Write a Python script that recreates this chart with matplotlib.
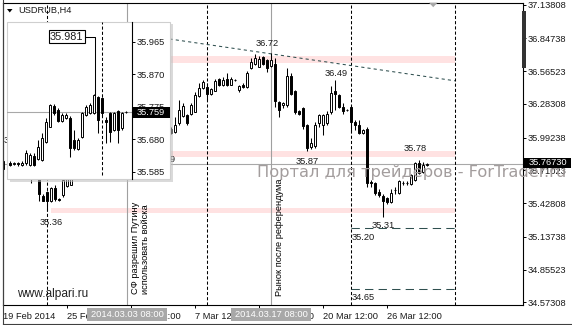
import matplotlib
matplotlib.use("Agg")
import matplotlib.pyplot as plt
from matplotlib.patches import Rectangle, Polygon
from matplotlib.lines import Line2D
from matplotlib.transforms import Affine2D

# ---------------- data ----------------
symbol = "USDRUB,H4"
# main H4 bars; index 0 = 19 Feb 2014 12:00 (one index per 4h bar); bars hidden by the inset are omitted
bar_idx = [0, 7, 9, 10, 11, 12, 13, 14, 15, 16, 17] + list(range(42, 107))
bar_open = [35.72, 35.70, 35.66, 35.49, 35.52, 35.45, 35.555, 35.465, 35.50, 35.575, 35.585,
            36.064, 36.044, 36.12, 36.179, 36.187, 36.20, 36.216, 36.35, 36.42, 36.43,
            36.37, 36.397, 36.50, 36.445, 36.50, 36.45, 36.49, 36.40, 36.45, 36.43,
            36.59, 36.63, 36.605, 36.69, 36.66, 36.61, 36.63, 36.30, 36.27, 36.27,
            36.52, 36.39, 36.22, 36.245, 36.10, 35.91, 35.92, 36.115, 36.10, 36.115,
            36.216, 36.39, 36.36, 36.26, 36.23, 36.26, 36.13, 36.10, 36.03, 36.07,
            35.61, 35.605, 35.525, 35.49, 35.47, 35.44, 35.54, 35.515, 35.60, 35.60,
            35.59, 35.63, 35.77, 35.70, 35.76]
bar_high = [35.80, 35.74, 35.68, 35.51, 35.53, 35.57, 35.58, 35.47, 35.64, 35.68, 35.70,
            36.08, 36.167, 36.316, 36.29, 36.20, 36.29, 36.387, 36.46, 36.49, 36.46,
            36.42, 36.50, 36.51, 36.517, 36.55, 36.517, 36.50, 36.45, 36.46, 36.57,
            36.68, 36.71, 36.695, 36.70, 36.67, 36.72, 36.68, 36.31, 36.30, 36.59,
            36.55, 36.40, 36.23, 36.26, 36.11, 35.99, 36.13, 36.20, 36.20, 36.22,
            36.435, 36.49, 36.37, 36.29, 36.24, 36.27, 36.14, 36.14, 36.07, 36.08,
            35.63, 35.61, 35.55, 35.505, 35.48, 35.55, 35.57, 35.627, 35.62, 35.62,
            35.68, 35.785, 35.80, 35.785, 35.775]
bar_low = [35.66, 35.60, 35.45, 35.445, 35.36, 35.44, 35.45, 35.445, 35.48, 35.57, 35.58,
           36.02, 36.03, 36.10, 36.17, 36.10, 36.19, 36.21, 36.34, 36.41, 36.317,
           36.36, 36.39, 36.44, 36.44, 36.44, 36.445, 36.48, 36.385, 36.42, 36.42,
           36.58, 36.62, 36.60, 36.62, 36.56, 36.60, 36.26, 36.17, 36.25, 36.26,
           36.36, 36.20, 36.19, 36.07, 35.88, 35.89, 35.90, 36.08, 36.015, 36.10,
           36.20, 36.23, 36.25, 36.20, 36.22, 36.04, 36.06, 36.02, 36.02, 35.57,
           35.57, 35.50, 35.48, 35.31, 35.42, 35.43, 35.51, 35.51, 35.58, 35.58,
           35.58, 35.62, 35.68, 35.69, 35.75]
bar_close = [35.79, 35.66, 35.51, 35.45, 35.45, 35.555, 35.46, 35.455, 35.63, 35.66, 35.68,
             36.030, 36.101, 36.23, 36.265, 36.12, 36.274, 36.36, 36.417, 36.475, 36.37,
             36.41, 36.484, 36.45, 36.488, 36.45, 36.50, 36.491, 36.44, 36.43, 36.55,
             36.64, 36.68, 36.67, 36.63, 36.59, 36.66, 36.31, 36.23, 36.29, 36.52,
             36.37, 36.215, 36.20, 36.09, 35.90, 35.945, 36.10, 36.187, 36.187, 36.20,
             36.375, 36.37, 36.26, 36.225, 36.231, 36.13, 36.10, 36.035, 36.06, 35.60,
             35.60, 35.512, 35.495, 35.45, 35.44, 35.515, 35.541, 35.62, 35.601, 35.605,
             35.67, 35.77, 35.685, 35.76, 35.7673]
current_price = 35.7673

price_ticks = [37.13808, 36.84738, 36.56523, 36.28308, 35.99238, 35.71023,
               35.42808, 35.13738, 34.85523, 34.57308]
time_tick_idx = [0, 16, 32, 48, 64, 80, 96]
time_tick_labels = ["19 Feb 2014", "25 Feb 12:00", "3 Mar 12:00", "7 Mar 12:00",
                    "14 Mar 12:00", "20 Mar 12:00", "26 Mar 12:00"]

# event lines
event_idx = [31, 67]
event_labels = ["2014.03.03 08:00", "2014.03.17 08:00"]
event_texts = ["СФ разрешил Путину\nиспользовать войска", "Рынок после референдума"]
dashed_vlines_idx = [11, 51, 87, 113]

# support / resistance zones (price ranges)
zones = [(36.635, 36.695), (35.828, 35.880), (35.343, 35.385)]
zone_from, zone_to = 12, 113
trend_idx = [20, 113]
trend_price = [36.952, 36.482]
target_levels = [35.21, 34.685]
target_labels = ["35.20", "34.65"]
target_from, target_to = 87, 113

# price labels placed on the chart
level_labels = ["36.72", "36.49", "35.78", "35.87", "35.31", "35.36"]

# inset (zoomed view)
in_open = [35.610, 35.607, 35.610, 35.604, 35.610, 35.604, 35.631, 35.622, 35.619, 35.673,
           35.716, 35.777, 35.765, 35.734, 35.742, 35.742, 35.678, 35.651, 35.687, 35.751,
           35.756, 35.756, 35.803, 35.800, 35.736, 35.756, 35.707, 35.762, 35.712, 35.759]
in_high = [35.616, 35.613, 35.613, 35.616, 35.648, 35.639, 35.639, 35.678, 35.698, 35.742,
           35.783, 35.783, 35.771, 35.756, 35.756, 35.748, 35.707, 35.683, 35.759, 35.780,
           35.786, 35.812, 35.806, 35.803, 35.745, 35.759, 35.759, 35.765, 35.759, 35.761]
in_low = [35.601, 35.604, 35.601, 35.601, 35.604, 35.601, 35.601, 35.619, 35.616, 35.669,
          35.716, 35.751, 35.730, 35.730, 35.739, 35.628, 35.648, 35.648, 35.683, 35.748,
          35.754, 35.754, 35.698, 35.748, 35.668, 35.673, 35.704, 35.668, 35.707, 35.757]
in_close = [35.604, 35.610, 35.606, 35.610, 35.639, 35.634, 35.604, 35.657, 35.683, 35.731,
            35.780, 35.756, 35.734, 35.751, 35.751, 35.654, 35.654, 35.678, 35.756, 35.774,
            35.780, 35.809, 35.736, 35.756, 35.731, 35.702, 35.756, 35.707, 35.756, 35.759]
in_ticks = [35.965, 35.870, 35.775, 35.680, 35.585]
in_current = 35.759
in_callout = "35.981"
in_dashed_idx = 23

# ---------------- drawing ----------------
W, H = 572, 325
plt.rcParams['font.family'] = ['Liberation Sans', 'DejaVu Sans']
FS = 6.7
TXT = '#1a1a1a'
fig = plt.figure(figsize=(W / 100, H / 100), dpi=100)
fig.patch.set_facecolor('white')
PIX = Affine2D().scale(1.0 / W, -1.0 / H).translate(0, 1) + fig.transFigure


def frect(x0, y0, x1, y1):
    return [x0 / W, 1 - y1 / H, (x1 - x0) / W, (y1 - y0) / H]


def prect(x0, y0, x1, y1, **kw):
    r = Rectangle((x0, y0), x1 - x0, y1 - y0, transform=PIX, **kw)
    fig.add_artist(r)
    return r


def ptext(x, y, s, **kw):
    return fig.text(x, y, s, transform=PIX, **kw)


def pline(xs, ys, **kw):
    ln = Line2D(xs, ys, transform=PIX, **kw)
    fig.add_artist(ln)
    return ln


def draw_candles(ax, xs, o, h, l, c, w, flat, z=3):
    for x, oo, hh, ll, cc in zip(xs, o, h, l, c):
        ax.plot([x, x], [ll, hh], color='black', lw=0.75, solid_capstyle='butt', zorder=z)
        if abs(cc - oo) < flat:
            ax.plot([x - w / 2, x + w / 2], [oo, oo], color='black', lw=0.75,
                    solid_capstyle='butt', zorder=z + 1)
        else:
            fc = 'white' if cc > oo else 'black'
            ax.add_patch(Rectangle((x - w / 2, min(oo, cc)), w, abs(cc - oo), fc=fc,
                                   ec='black', lw=0.7, zorder=z + 1))


# main axes
ax = fig.add_axes(frect(2.7, 2.7, 523, 305))
ax.set_facecolor('white')
ax.set_xlim((2.7 - 3) / 4, (523 - 3) / 4)
ax.set_ylim(34.5493, 37.1553)
for s in ax.spines.values():
    s.set_linewidth(0.8)
    s.set_color('black')
ax.yaxis.tick_right()
ax.set_yticks(price_ticks, [f"{v:.5f}" for v in price_ticks])
ax.tick_params(axis='y', direction='out', length=2.2, width=0.7, pad=1.4,
               labelsize=FS, colors='black', labelcolor=TXT)
ax.set_xticks(time_tick_idx, time_tick_labels)
for lab in ax.get_xticklabels():
    lab.set_horizontalalignment('left')
ax.tick_params(axis='x', direction='out', length=2, width=0.7, pad=3.2,
               labelsize=FS, colors='black', labelcolor=TXT)

for lo, hi in zones:
    ax.add_patch(Rectangle((zone_from, lo), zone_to - zone_from, hi - lo,
                           fc='#ffe2e2', ec='none', zorder=0.5))
ax.axhline(current_price, color='#a8a8a8', lw=0.8, zorder=1)
for i in event_idx:
    ax.axvline(i, color='#a0a0a0', lw=0.8, zorder=1.2)
for i in dashed_vlines_idx:
    ax.axvline(i, color='black', lw=0.75, ls=(0, (3, 2)), zorder=1.3)
ax.plot(trend_idx, trend_price, color='#2f4f4f', lw=0.75, ls=(0, (3, 3)), zorder=1.4)
for lv in target_levels:
    ax.plot([target_from, target_to], [lv, lv], color='#2f4f4f', lw=0.75,
            ls=(0, (8, 5)), zorder=1.4)

draw_candles(ax, bar_idx, bar_open, bar_high, bar_low, bar_close, 0.5, 0.006)

# chart texts (pixel placement)
lbl_pos = [(267, 44), (336, 73.3), (415.5, 148.7), (307, 161.7), (383.5, 225), (51.5, 222.7)]
for s, (x, y) in zip(level_labels, lbl_pos):
    ptext(x, y, s, fontsize=FS, color=TXT, ha='center', va='center', zorder=2)
for s, y in zip(target_labels, [238, 297.7]):
    ptext(352, y, s, fontsize=FS, color=TXT, ha='left', va='center', zorder=2)
# labels partly hidden by the inset
ptext(176, 159.3, "35.79", fontsize=FS, color=TXT, ha='right', va='center', zorder=2)
ptext(3.6, 140.5, "35.96", fontsize=FS, color=TXT, ha='left', va='center', zorder=2)

ptext(131, 293.5, event_texts[0], fontsize=FS, color='black', rotation=90,
      ha='left', va='bottom', linespacing=1.15, zorder=2)
ptext(275, 295.5, event_texts[1], fontsize=FS, color='black', rotation=90,
      ha='left', va='bottom', zorder=2)
ptext(17, 294, "www.alpari.ru", fontsize=8.6, color='#222222', ha='left', va='center', zorder=2)

# symbol header
fig.add_artist(Polygon([(7, 9), (12.5, 9), (9.75, 12.5)], closed=True, transform=PIX,
                       fc='black', ec='none', zorder=2))
ptext(18, 10.7, symbol, fontsize=FS, color=TXT, ha='left', va='center', zorder=2)

# chart-shift marker and scroll bar
fig.add_artist(Polygon([(429, 2.7), (437.5, 2.7), (433.2, 7.2)], closed=True, transform=PIX,
                       fc='#a8a8a8', ec='none', zorder=2))
prect(522, 10.5, 526, 67.5, fc='#333333', ec='none', zorder=2)

# watermark
wm = ptext(257, 172.5, "Портал для трейдеров - ForTrader.ru", family='DejaVu Sans',
           fontsize=10.9, color='#a39d9d', ha='left', va='center', zorder=3)

# event date boxes on time axis
for i, s in zip(event_idx, event_labels):
    xc = 3 + 4 * i
    prect(xc - 40, 308, xc + 39.5, 320.5, fc='#a8a8a8', ec='none', zorder=3)
    ptext(xc, 314.3, s, fontsize=FS, color='white', ha='center', va='center', zorder=3.1)

# current price box
prect(524, 158, 570.5, 167.5, fc='black', ec='none', zorder=4)
ptext(528.5, 162.8, f"{current_price:.5f}", fontsize=FS, color='white', ha='left',
      va='center', zorder=4.1)

# ---------------- inset ----------------
prect(9.5, 24.2, 172.5, 181.5, fc='#bdbdbd', ec='none', alpha=0.55, zorder=4.8)
prect(7, 21.7, 170, 179, fc='white', ec='#cfcfcf', lw=0.8, zorder=5)
ax2 = fig.add_axes(frect(7, 21.7, 132, 179), zorder=6)
ax2.patch.set_alpha(0)
ax2.set_xlim(-0.75, 30.5)
ax2.set_ylim(35.5635, 36.0234)
for k in ['top', 'left', 'bottom']:
    ax2.spines[k].set_visible(False)
ax2.spines['right'].set_linewidth(0.8)
ax2.yaxis.tick_right()
ax2.set_yticks(in_ticks, [f"{v:.3f}" for v in in_ticks])
ax2.tick_params(axis='y', direction='out', length=2.2, width=0.7, pad=1.4,
                labelsize=FS, labelcolor=TXT)
ax2.set_xticks([])
ax2.axhline(in_current, color='#a8a8a8', lw=0.8, zorder=1)
ax2.axvline(in_dashed_idx, ymin=0.025, ymax=0.995, color='black', lw=0.75,
            ls=(0, (3, 2)), zorder=1.3)
draw_candles(ax2, list(range(len(in_open))), in_open, in_high, in_low, in_close, 0.5, 0.002)

prect(133, 107, 170, 118, fc='black', ec='none', zorder=7)
ptext(136.5, 112.6, f"{in_current:.3f}", fontsize=FS, color='white', ha='left',
      va='center', zorder=7.1)
prect(48.5, 30.2, 84.8, 42.6, fc='white', ec='black', lw=0.8, zorder=7)
ptext(66.6, 36.5, in_callout, fontsize=7.8, color=TXT, ha='center', va='center', zorder=7.1)
pline([84.8, 95, 95], [36.5, 36.5, 94.5], color='black', lw=0.75, zorder=7)

# window frame
pline([2.7, 2.7], [0, 323.5], color='#404040', lw=0.8, zorder=8)
pline([2.7, 572], [323.5, 323.5], color='#404040', lw=0.8, zorder=8)

# fit watermark width
fig.canvas.draw()
bb = wm.get_window_extent()
wm.set_fontsize(wm.get_fontsize() * 309.0 / bb.width)

fig.savefig("out.png", dpi=100)
